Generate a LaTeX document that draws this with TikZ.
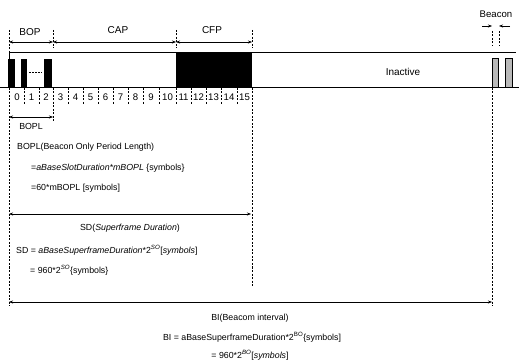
\documentclass[tikz,border=0pt]{standalone}
\usepackage{fontspec}
\setmainfont{Liberation Sans}
\usetikzlibrary{arrows.meta}
\begin{document}
\begin{tikzpicture}[x=1pt,y=-1pt,
  lbl/.style={font=\fontsize{10}{12}\selectfont, inner sep=0pt},
  body/.style={font=\fontsize{8.8}{11}\selectfont, inner sep=0pt},
  num/.style={font=\fontsize{9.6}{11}\selectfont, inner sep=0pt},
  txt/.style={body, anchor=west},
  guide/.style={line width=0.5pt, dash pattern=on 2pt off 1.5pt},
  dim/.style={line width=0.5pt, {Stealth[length=4pt,width=3pt]}-{Stealth[length=4pt,width=3pt]}},
  single/.style={line width=0.5pt, -{Stealth[length=4pt,width=3pt]}},
  bcn/.style={fill=gray!55, draw=black, line width=0.4pt},
]
\useasboundingbox (0,0) rectangle (519,363);

% superframe outline and time axis
\draw[line width=0.6pt] (9,87) -- (9,52) -- (516,52);
\draw[line width=1.4pt] (0,87.5) -- (519,87.5);

% beacon-only slots
\fill (8,59) rectangle (15,87);
\fill (21,59) rectangle (27,87);
\fill (44,59) rectangle (52,87);
\draw[line width=1pt, dash pattern=on 1.5pt off 1.5pt] (29,73) -- (42,73);

% contention free period
\fill (176,52) rectangle (252,87);

% next beacon
\filldraw[bcn] (492,58) rectangle (498,87);
\filldraw[bcn] (505,58) rectangle (512,87);

% slot numbers and slot boundaries
\foreach \i/\a/\b in {0/10/24,1/24/39,2/39/53,3/53/68,4/68/83,5/83/98,6/98/113,7/113/128,
  8/128/143,9/143/159,10/159/176,11/176/191,12/191/206,13/206/221,14/221/237,15/237/252}
  \node[num] (n\i) at ({(\a+\b)/2},97) {\i};
\foreach \x in {24,39,53,68,83,98,113,128,143,159,176,191,206,221,237}
  \draw[guide] (\x,88) -- (\x,105);

% period labels above the frame
\node[lbl] (bop) at (30,32) {BOP};
\node[lbl] (cap) at (118,30) {CAP};
\node[lbl] (cfp) at (212,30) {CFP};
\node[lbl] (inact) at (403,72) {Inactive};
\node[num] (beacon) at (496,14) {Beacon};

\coordinate (t0) at (9,42);
\coordinate (t1) at (53,42);
\coordinate (t2) at (176,42);
\coordinate (t3) at (252,42);
\draw[guide] (9,30) -- (9,52);
\draw[guide] (53,30) -- (53,48);
\draw[guide] (176,30) -- (176,48);
\draw[guide] (252,30) -- (252,48);
\draw[dim] (t0) -- (t1);
\draw[dim] (t1) -- (t2);
\draw[dim] (t2) -- (t3);

% beacon width marks
\coordinate (b0) at (482,26);
\coordinate (b1) at (492,26);
\coordinate (b2) at (499,26);
\coordinate (b3) at (510,26);
\draw[single] (b0) -- (b1);
\draw[single] (b3) -- (b2);
\draw[guide] (492,31) -- (492,46);
\draw[guide] (499,31) -- (499,46);

% guides below the frame
\draw[guide] (9,88) -- (9,306);
\draw[guide] (53,88) -- (53,122);
\draw[guide] (252,88) -- (252,286);
\draw[guide] (492,88) -- (492,306);

% BOPL
\coordinate (p0) at (9,117);
\coordinate (p1) at (53,117);
\draw[dim] (p0) -- (p1);
\node[body] (bopl) at (31,126) {BOPL};
\node[txt] (bopl1) at (17,147) {BOPL(Beacon Only Period Length)};
\node[txt] (bopl2) at (31,168) {=\textit{aBaseSlotDuration*mBOPL} \{symbols\}};
\node[txt] (bopl3) at (31,188) {=60*mBOPL [symbols]};

% SD
\coordinate (s0) at (9,214);
\coordinate (s1) at (251,214);
\draw[dim] (s0) -- (s1);
\node[body] (sd0) at (130,228) {SD(\textit{Superframe Duration})};
\node[txt] (sd1) at (16,250) {SD = \textit{aBaseSuperframeDuration}*2\textsuperscript{\textit{SO}}[\textit{symbols}]};
\node[txt] (sd2) at (30,270) {= 960*2\textsuperscript{\textit{SO}}\{symbols\}};

% BI
\coordinate (i0) at (9,302);
\coordinate (i1) at (492,302);
\draw[dim] (i0) -- (i1);
\node[body] (bi0) at (250,318) {BI(Beacom interval)};
\node[body] (bi1) at (252,337) {BI = aBaseSuperframeDuration*2\textsuperscript{BO}\{symbols]};
\node[body] (bi2) at (250,355) {= 960*2\textsuperscript{\textit{BO}}[\textit{symbols}]};
\end{tikzpicture}
\end{document}
